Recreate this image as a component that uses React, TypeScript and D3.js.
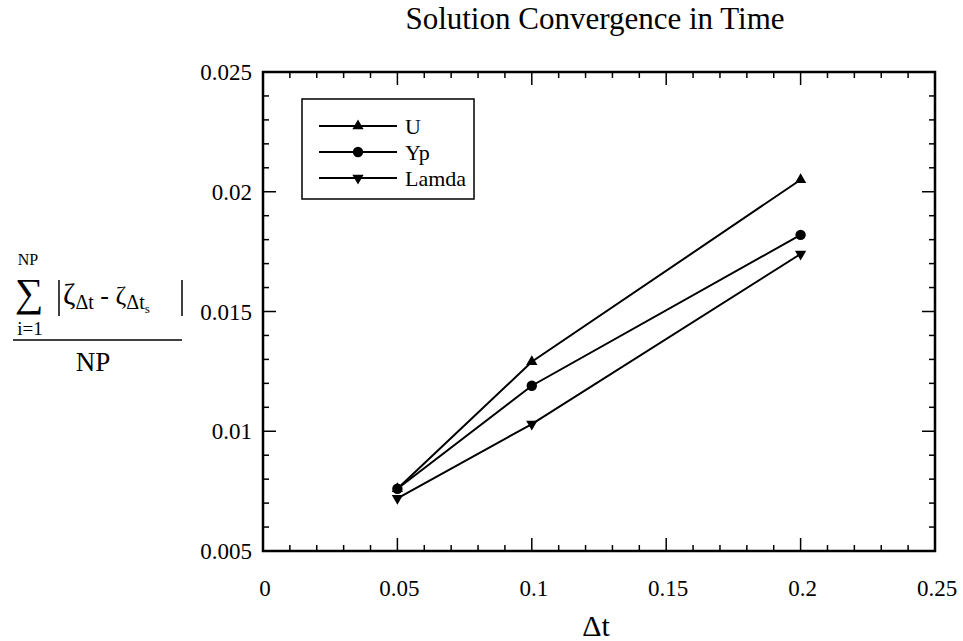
import * as d3 from "d3";
import { useRef, useEffect } from "react";

const xVals = [0.05, 0.1, 0.2];
const uVals = [0.0076, 0.0129, 0.0205];
const ypVals = [0.0076, 0.0119, 0.0182];
const lamdaVals = [0.0072, 0.0103, 0.0174];

const seriesNames = ["U", "Yp", "Lamda"];
const xTicks = [0, 0.05, 0.1, 0.15, 0.2, 0.25];
const yTicks = [0.005, 0.01, 0.015, 0.02, 0.025];

const App = () => {
  const container = useRef<SVGSVGElement | null>(null);

  useEffect(() => {
    createChart();
  });

  const createChart = () => {
    const width = 963;
    const height = 641;
    const margins = { t: 72, b: 90, l: 263, r: 28 };
    const font = "'Liberation Serif', 'Times New Roman', serif";

    const svg = d3.select(container.current);
    svg.selectAll("*").remove();

    const xScale = d3.scaleLinear().domain([0, 0.25]).range([margins.l, width - margins.r]);
    const yScale = d3.scaleLinear().domain([0.005, 0.025]).range([height - margins.b, margins.t]);

    const x0 = xScale(0), x1 = xScale(0.25), y0 = yScale(0.005), y1 = yScale(0.025);

    // ticks (inside, all four sides)
    const ticks = svg.append("g").attr("stroke", "black").attr("stroke-width", 1.5);
    const xMinor = d3.range(0, 26).map((i) => i * 0.01);
    const yMinor = d3.range(5, 26).map((i) => i * 0.001);
    xMinor.forEach((v) => {
      const major = Math.round(v * 1000) % 50 === 0;
      const len = major ? 13 : 6;
      ticks.append("line").attr("x1", xScale(v)).attr("x2", xScale(v)).attr("y1", y0).attr("y2", y0 - len);
      ticks.append("line").attr("x1", xScale(v)).attr("x2", xScale(v)).attr("y1", y1).attr("y2", y1 + len);
    });
    yMinor.forEach((v) => {
      const major = Math.round(v * 10000) % 50 === 0;
      const len = major ? 13 : 6;
      ticks.append("line").attr("y1", yScale(v)).attr("y2", yScale(v)).attr("x1", x0).attr("x2", x0 + len);
      ticks.append("line").attr("y1", yScale(v)).attr("y2", yScale(v)).attr("x1", x1).attr("x2", x1 - len);
    });

    // frame
    svg.append("rect")
      .attr("x", x0).attr("y", y1)
      .attr("width", x1 - x0).attr("height", y0 - y1)
      .attr("fill", "none").attr("stroke", "black").attr("stroke-width", 2.5);

    // tick labels
    svg.append("g").selectAll("text").data(xTicks).join("text")
      .attr("x", (d) => xScale(d) + 2)
      .attr("y", 596)
      .attr("text-anchor", "middle")
      .style("font-family", font).style("font-size", "23px")
      .text((d) => d3.format("")(d));

    svg.append("g").selectAll("text").data(yTicks).join("text")
      .attr("x", 252)
      .attr("y", (d) => yScale(d) + 8)
      .attr("text-anchor", "end")
      .style("font-family", font).style("font-size", "23px")
      .text((d) => d3.format("")(d));

    // series
    const series = [uVals, ypVals, lamdaVals].map((vals, i) => ({
      name: seriesNames[i],
      pts: vals.map((v, j) => ({ x: xVals[j], y: v })),
    }));

    const line = d3.line<{ x: number; y: number }>().x((d) => xScale(d.x)).y((d) => yScale(d.y));
    const tri = d3.symbol().type(d3.symbolTriangle).size(55)();
    const circ = d3.symbol().type(d3.symbolCircle).size(85)();
    const markerPath = (name: string) => (name === "Yp" ? circ : tri);
    const markerRot = (name: string) => (name === "Lamda" ? " rotate(180)" : "");

    series.forEach((s) => {
      svg.append("path").datum(s.pts)
        .attr("d", line).attr("fill", "none").attr("stroke", "black").attr("stroke-width", 2);
    });
    series.forEach((s) => {
      svg.append("g").selectAll("path").data(s.pts).join("path")
        .attr("d", markerPath(s.name))
        .attr("transform", (d) => `translate(${xScale(d.x)},${yScale(d.y)})${markerRot(s.name)}`)
        .attr("fill", "black");
    });

    // legend
    const lg = svg.append("g");
    lg.append("rect").attr("x", 302).attr("y", 99).attr("width", 172).attr("height", 100)
      .attr("fill", "white").attr("stroke", "black").attr("stroke-width", 1.5);
    series.forEach((s, i) => {
      const ly = 126 + i * 26;
      lg.append("line").attr("x1", 319).attr("x2", 397).attr("y1", ly).attr("y2", ly)
        .attr("stroke", "black").attr("stroke-width", 2);
      lg.append("path").attr("d", markerPath(s.name))
        .attr("transform", `translate(358,${ly})${markerRot(s.name)}`).attr("fill", "black");
      lg.append("text").attr("x", 405).attr("y", ly + 8)
        .style("font-family", font).style("font-size", "22px").text(s.name);
    });

    // title
    svg.append("text").attr("x", 595).attr("y", 29).attr("text-anchor", "middle")
      .style("font-family", font).style("font-size", "31px")
      .text("Solution Convergence in Time");

    // x label
    svg.append("text").attr("x", 596).attr("y", 636).attr("text-anchor", "middle")
      .style("font-family", font).style("font-size", "30px")
      .text("\u0394t");

    // y label (fraction)
    const yl = svg.append("g").style("font-family", font);
    yl.append("text").attr("x", 28).attr("y", 265).attr("text-anchor", "middle")
      .style("font-size", "16px").text("NP");
    yl.append("text").attr("x", 29).attr("y", 306).attr("text-anchor", "middle")
      .style("font-size", "40px").text("\u2211");
    yl.append("line").attr("x1", 59).attr("x2", 59).attr("y1", 280).attr("y2", 316)
      .attr("stroke", "black").attr("stroke-width", 1.5);
    yl.append("line").attr("x1", 182).attr("x2", 182).attr("y1", 280).attr("y2", 316)
      .attr("stroke", "black").attr("stroke-width", 1.5);
    const zt = yl.append("text").attr("x", 63).attr("y", 304).style("font-size", "30px");
    zt.append("tspan").text("\u03b6");
    zt.append("tspan").attr("dy", 5).style("font-size", "20px").text("\u0394t");
    zt.append("tspan").attr("dy", -5).style("font-size", "26px").text(" - \u03b6");
    zt.append("tspan").attr("dy", 5).style("font-size", "20px").text("\u0394t");
    zt.append("tspan").attr("dy", 4).style("font-size", "13px").text("s");
    yl.append("text").attr("x", 30).attr("y", 335).attr("text-anchor", "middle")
      .style("font-size", "19px").text("i=1");
    yl.append("line").attr("x1", 13).attr("x2", 182).attr("y1", 340).attr("y2", 340)
      .attr("stroke", "black").attr("stroke-width", 1.5);
    yl.append("text").attr("x", 93).attr("y", 371).attr("text-anchor", "middle")
      .style("font-size", "27px").text("NP");
  };

  return (
    <svg
      ref={container}
      width={963}
      height={641}
      style={{ position: "absolute", left: 0, top: 0, background: "white" }}
    />
  );
};

export default App;
